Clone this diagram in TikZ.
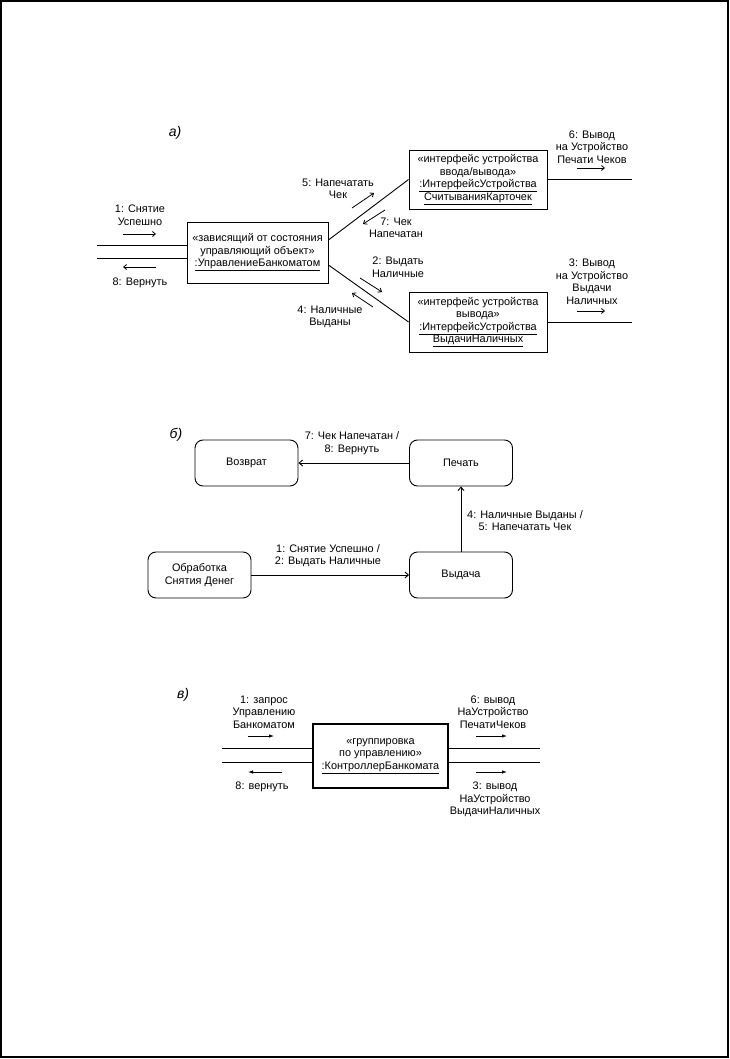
\documentclass[tikz,border=0pt]{standalone}
\usepackage{fontspec}
\setmainfont{Liberation Sans}
\usetikzlibrary{arrows.meta}
\begin{document}
\begin{tikzpicture}[x=1pt,y=-1pt,
  font=\fontsize{10.9}{12.5}\selectfont,
  obj/.style={draw, line width=0.9pt, inner sep=0pt, align=center},
  lbl/.style={inner sep=0pt, align=center},
  ln/.style={line width=0.9pt},
  msg/.style={line width=0.8pt, -{Straight Barb[length=3pt,width=5pt]}},
  msgf/.style={line width=0.8pt, -{Latex[length=5pt,width=3.5pt]}},
  st/.style={draw, line width=0.9pt, rounded corners=8pt, minimum width=103pt, minimum height=46pt, inner sep=0pt, align=center},
  tr/.style={line width=0.9pt, -{Straight Barb[length=3.5pt,width=6pt]}},
  part/.style={inner sep=0pt, font=\fontsize{14}{16}\selectfont\itshape}]
\useasboundingbox (0,0) rectangle (730,1059);
\draw[line width=1.5pt] (1,1) rectangle (728,1057);

% ---------------- part a
\node[part] (pa) at (175,133) {а)};
\node[obj, minimum width=141pt, minimum height=61pt] (ctrl) at (257.5,252.5)
  {«зависящий от состояния\\управляющий объект»\\\underline{:УправлениеБанкоматом}};
\node[obj, minimum width=138pt, minimum height=59pt] (io1) at (478,179.5)
  {«интерфейс устройства\\ввода/вывода»\\\underline{:ИнтерфейсУстройства}\\\underline{СчитыванияКарточек}};
\node[obj, minimum width=138pt, minimum height=60pt] (io2) at (478,322)
  {«интерфейс устройства\\вывода»\\\underline{:ИнтерфейсУстройства}\\\underline{ВыдачиНаличных}};

\coordinate (ain1) at (97,245);
\coordinate (ain2) at (97,258);
\draw[ln] (ain1) -- (ain1 -| ctrl.west);
\draw[ln] (ain2) -- (ain2 -| ctrl.west);
\coordinate (aout1) at (632,179.5);
\coordinate (aout2) at (632,322);
\draw[ln] (io1.east) -- (aout1);
\draw[ln] (io2.east) -- (aout2);
\draw[ln] ([yshift=12.5pt]ctrl.east) -- (io1.west);
\draw[ln] ([yshift=-12.5pt]ctrl.east) -- (io2.west);

% message arrows
\coordinate (m1a) at (123,234); \coordinate (m1b) at (156,234);
\draw[msg] (m1a) -- (m1b);
\coordinate (m8a) at (156,267); \coordinate (m8b) at (123,267);
\draw[msg] (m8a) -- (m8b);
\coordinate (m5a) at (352,208); \coordinate (m5b) at (374,193);
\draw[msg] (m5a) -- (m5b);
\coordinate (m7a) at (385,210); \coordinate (m7b) at (363,224);
\draw[msg] (m7a) -- (m7b);
\coordinate (m2a) at (360,278); \coordinate (m2b) at (382,292);
\draw[msg] (m2a) -- (m2b);
\coordinate (m4a) at (373,307); \coordinate (m4b) at (352,293);
\draw[msg] (m4a) -- (m4b);
\coordinate (m6a) at (577,168); \coordinate (m6b) at (605,168);
\draw[msg] (m6a) -- (m6b);
\coordinate (m3a) at (577,311); \coordinate (m3b) at (605,311);
\draw[msg] (m3a) -- (m3b);

\node[lbl] (l1) at (140,215) {1: Снятие\\Успешно};
\node[lbl] (l8) at (140,283) {8: Вернуть};
\node[lbl] (l5) at (338,189) {5: Напечатать\\Чек};
\node[lbl] (l7) at (396,228) {7: Чек\\Напечатан};
\node[lbl] (l2) at (398,267) {2: Выдать\\Наличные};
\node[lbl] (l4) at (330,317) {4: Наличные\\Выданы};
\node[lbl] (l6) at (592,147) {6: Вывод\\на Устройство\\Печати Чеков};
\node[lbl] (l3) at (592,281.5) {3: Вывод\\на Устройство\\Выдачи\\Наличных};

% ---------------- part b
\node[part] (pb) at (176,435) {б)};
\node[st] (ret) at (246.5,463) {Возврат};
\node[st] (prn) at (461,463) {Печать};
\node[st] (proc) at (199.5,575) {Обработка\\Снятия Денег};
\node[st] (disp) at (461,575) {Выдача};
\draw[tr] (prn) -- (ret);
\draw[tr] (proc) -- (disp);
\draw[tr] (disp) -- (prn);
\node[lbl] (t7) at (352,443) {7: Чек Напечатан /\\8: Вернуть};
\node[lbl] (t1) at (328,555.5) {1: Снятие Успешно /\\2: Выдать Наличные};
\node[lbl] (t4) at (525,520.5) {4: Наличные Выданы /\\5: Напечатать Чек};

% ---------------- part c
\node[part] (pc) at (183,695) {в)};
\node[obj, line width=2.8pt, minimum width=135pt, minimum height=64pt] (kb) at (380.5,756)
  {«группировка\\по управлению»\\\underline{:КонтроллерБанкомата}};
\coordinate (cin1) at (222,748);
\coordinate (cin2) at (222,762);
\coordinate (cout1) at (540,748);
\coordinate (cout2) at (540,762);
\draw[ln] (cin1) -- (cin1 -| kb.west);
\draw[ln] (cin2) -- (cin2 -| kb.west);
\draw[ln] (kb.east |- cout1) -- (cout1);
\draw[ln] (kb.east |- cout2) -- (cout2);

\coordinate (n1a) at (248,736); \coordinate (n1b) at (274,736);
\draw[msgf] (n1a) -- (n1b);
\coordinate (n8a) at (282,772); \coordinate (n8b) at (248,772);
\draw[msgf] (n8a) -- (n8b);
\coordinate (n6a) at (476,736); \coordinate (n6b) at (507,736);
\draw[msgf] (n6a) -- (n6b);
\coordinate (n3a) at (476,772); \coordinate (n3b) at (507,772);
\draw[msgf] (n3a) -- (n3b);

\node[lbl] (k1) at (264,712) {1: запрос\\Управлению\\Банкоматом};
\node[lbl] (k8) at (262,787) {8: вернуть};
\node[lbl] (k6) at (493,712) {6: вывод\\НаУстройство\\ПечатиЧеков};
\node[lbl] (k3) at (495,799.5) {3: вывод\\НаУстройство\\ВыдачиНаличных};
\end{tikzpicture}
\end{document}
